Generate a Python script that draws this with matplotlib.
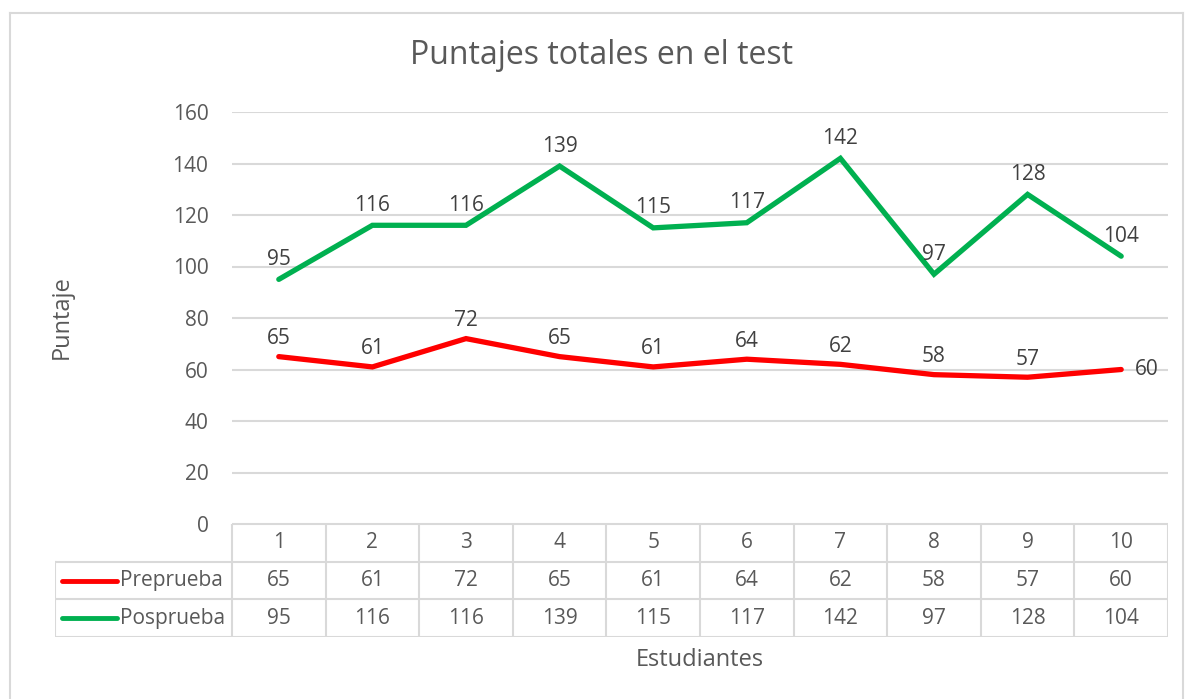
import matplotlib.pyplot as plt
from matplotlib.lines import Line2D

plt.rcParams['font.family'] = ['Open Sans', 'DejaVu Sans']

# datos del grafico
estudiantes = [1, 2, 3, 4, 5, 6, 7, 8, 9, 10]
preprueba = [65, 61, 72, 65, 61, 64, 62, 58, 57, 60]
posprueba = [95, 116, 116, 139, 115, 117, 142, 97, 128, 104]
series = ["Preprueba", "Posprueba"]

rojo = "#FF0000"
verde = "#00B050"
gris_txt = "#595959"
gris_lin = "#D9D9D9"
fs = 15

W, H = 1185, 699
fig = plt.figure(figsize=(W / 100, H / 100), dpi=100)

# area del grafico en pixeles
x0, x1 = 232, 1168
y_top, y_bot = 112, 524
ax = fig.add_axes([x0 / W, (H - y_bot) / H, (x1 - x0) / W, (y_bot - y_top) / H])

ax.plot(estudiantes, preprueba, color=rojo, lw=3.8, solid_capstyle='round', solid_joinstyle='miter', zorder=3)
ax.plot(estudiantes, posprueba, color=verde, lw=3.8, solid_capstyle='round', solid_joinstyle='miter', zorder=3)

ax.set_xlim(0.5, 10.5)
ax.set_ylim(0, 160)
ax.set_yticks(range(0, 161, 20))
ax.set_xticks([])
ax.grid(axis='y', color=gris_lin, lw=1.5)
ax.set_axisbelow(True)
for s in ax.spines.values():
    s.set_visible(False)
ax.tick_params(axis='y', length=0, labelsize=fs, labelcolor=gris_txt, pad=17)

# etiquetas de datos
for i, (x, v) in enumerate(zip(estudiantes, preprueba)):
    if i == len(preprueba) - 1:
        ax.annotate(str(v), (x, v), xytext=(14, 0), textcoords='offset pixels',
                    ha='left', va='center', fontsize=fs, color='#404040')
    else:
        ax.annotate(str(v), (x, v), xytext=(0, 18), textcoords='offset pixels',
                    ha='center', va='center', fontsize=fs, color='#404040')
for x, v in zip(estudiantes, posprueba):
    ax.annotate(str(v), (x, v), xytext=(0, 20), textcoords='offset pixels',
                ha='center', va='center', fontsize=fs, color='#404040')

# tabla de datos
t_left, t_bot = 55, 637
tax = fig.add_axes([t_left / W, (H - t_bot) / H, (x1 - t_left) / W, (t_bot - y_bot) / H])
unit = (x1 - x0) / 10.0
xl = 0.5 - (x0 - t_left) / unit
tax.set_xlim(xl, 10.5)
tax.set_ylim(0, 3)
tax.axis('off')
kw = dict(color=gris_lin, lw=1.5, solid_capstyle='projecting')
tax.plot([0.5, 10.5], [3, 3], **kw)
tax.plot([xl, 10.5], [2, 2], **kw)
tax.plot([xl, 10.5], [1, 1], **kw)
tax.plot([xl, 10.5], [0, 0], **kw)
tax.plot([xl, xl], [0, 2], **kw)
for k in range(11):
    tax.plot([0.5 + k, 0.5 + k], [0, 3], **kw)

for x in estudiantes:
    tax.text(x, 2.5, str(x), ha='center', va='center', fontsize=fs, color=gris_txt)
for row, vals, col, name in [(1.5, preprueba, rojo, series[0]), (0.5, posprueba, verde, series[1])]:
    for x, v in zip(estudiantes, vals):
        tax.text(x, row, str(v), ha='center', va='center', fontsize=fs, color=gris_txt)
    tax.add_line(Line2D([xl + 7 / unit, xl + 62 / unit], [row, row], color=col, lw=3.5,
                        solid_capstyle='round'))
    tax.text(xl + 65 / unit, row, name, ha='left', va='center', fontsize=fs, color=gris_txt)

# titulos
fig.text(601 / W, 1 - 56 / H, "Puntajes totales en el test", ha='center', va='center',
         fontsize=23, color=gris_txt)
fig.text(62 / W, 1 - 317 / H, "Puntaje", ha='center', va='center', rotation=90,
         fontsize=17, color=gris_txt)
fig.text(700 / W, 1 - 660 / H, "Estudiantes", ha='center', va='center',
         fontsize=17, color=gris_txt)

# borde exterior
fig.add_artist(Line2D([10 / W, 10 / W], [0, 1 - 13 / H], color=gris_lin, lw=1.5))
fig.add_artist(Line2D([10 / W, 1183 / W], [1 - 13 / H, 1 - 13 / H], color=gris_lin, lw=1.5))
fig.add_artist(Line2D([1183 / W, 1183 / W], [0, 1 - 13 / H], color=gris_lin, lw=1.5))

plt.savefig('out.png', dpi=100)
